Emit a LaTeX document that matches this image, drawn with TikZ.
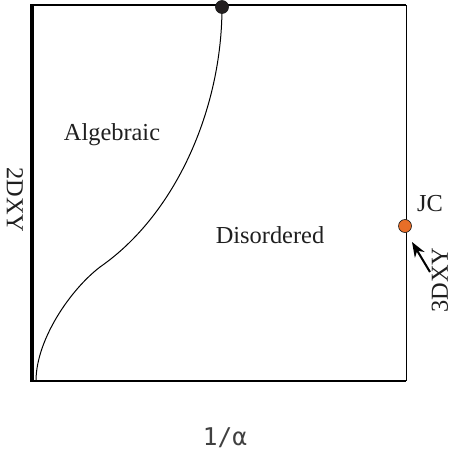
\documentclass[tikz,border=0pt]{standalone}
\usepackage{fontspec}
\setmainfont{Liberation Serif}
\newfontfamily\alphafont{DejaVu Sans Mono}
\usetikzlibrary{arrows.meta}
\definecolor{dotorange}{RGB}{232,110,40}
\definecolor{dotdark}{RGB}{35,31,32}
\begin{document}
\begin{tikzpicture}[x=0.5pt, y=-0.5pt, >=Stealth,
    lbl/.style={font=\fontsize{12.2}{14}\selectfont, text=black!88, inner sep=0pt},
    pdot/.style={circle, draw=black!90, line width=0.3pt, inner sep=0pt, minimum size=6.5pt}]
    \useasboundingbox (0,0) rectangle (455,455);

    % Phase diagram frame
    \draw[line width=1pt] (30,5) -- (406,5);
    \draw[line width=1pt] (30,381) -- (406,381);
    \draw[line width=0.5pt] (406,5) -- (406,381);
    \draw[line width=2pt] (32,4) -- (32,382);

    % Phase boundary
    \draw[line width=0.5pt] (36,381) .. controls (36,340) and (70,290) .. (100,267);
    \draw[line width=0.5pt] (100,267) .. controls (175,215) and (222,110) .. (222,7);

    % Special points
    \node[pdot, fill=dotdark] (top) at (222,7) {};
    \node[pdot, fill=dotorange] (jcdot) at (405,226) {};

    % Region labels
    \node[lbl] (alg) at (112,135) {Algebraic};
    \node[lbl] (dis) at (270,235) {Disordered};
    \node[lbl] (jc) at (430,204) {JC};
    \node[lbl, rotate=-90] (xy2) at (15,200) {2DXY};
    \node[lbl, rotate=90] (xy3) at (440,280) {3DXY};

    % Arrow to the JC point
    \coordinate (tail) at (430,272);
    \coordinate (tip) at (412,242);
    \draw[->, line width=1pt] (tail) -- (tip);

    % Axis label
    \node[lbl, font=\alphafont\fontsize{12.2}{14}\selectfont, text=black!75] (axis) at (225,438) {1/α};
\end{tikzpicture}
\end{document}
